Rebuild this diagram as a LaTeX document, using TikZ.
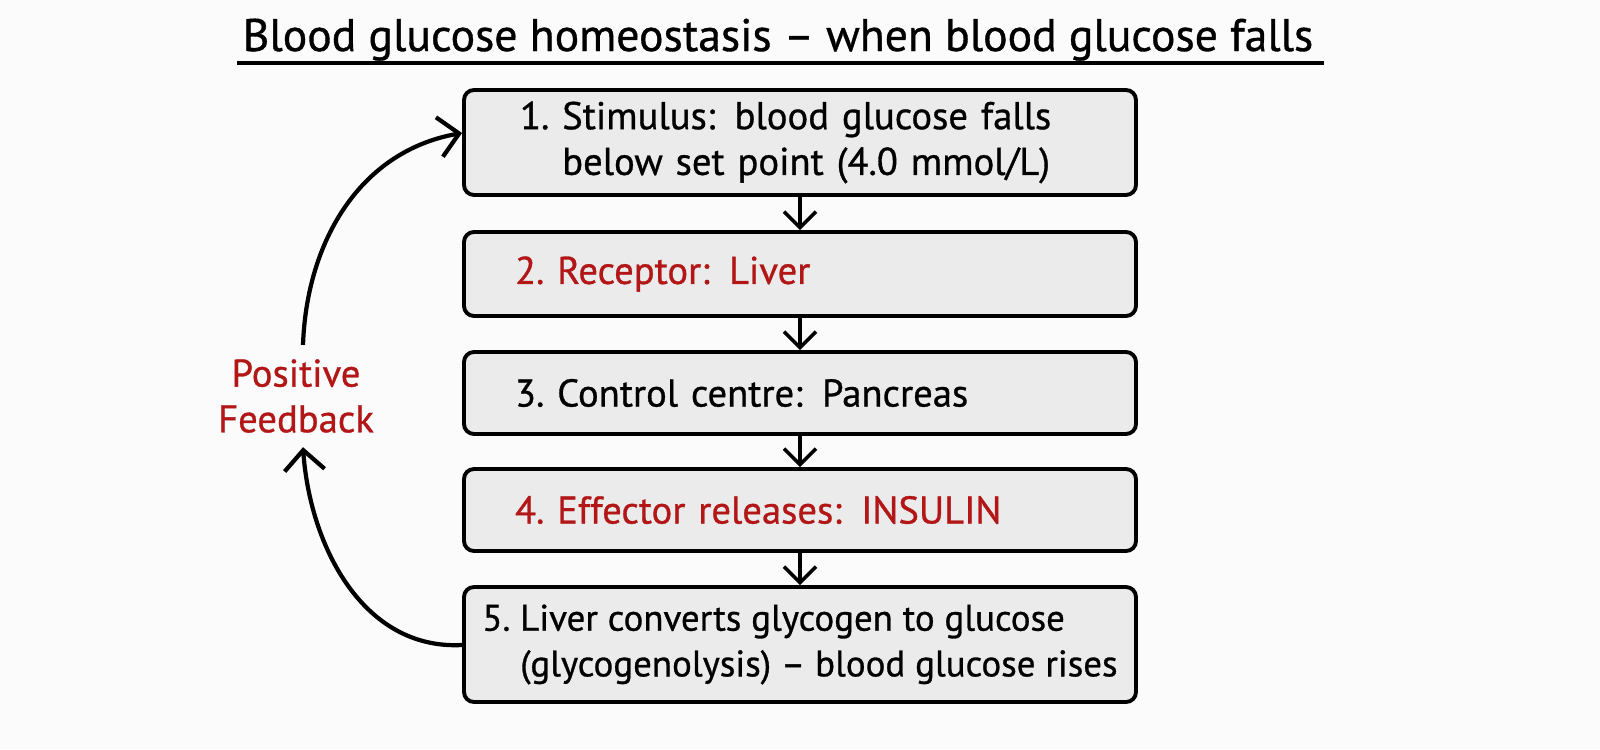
\documentclass[tikz,border=0pt]{standalone}
\usepackage{fontspec}
\setmainfont{PT Sans}[FakeBold=0.8]
\usetikzlibrary{arrows.meta}
\definecolor{boxgrey}{RGB}{235,235,235}
\definecolor{fbred}{RGB}{178,22,22}
\definecolor{paper}{RGB}{251,251,251}
\tikzset{
	stepbox/.style={draw, line width=1.1pt, rounded corners=0.1cm, fill=boxgrey, minimum width=6.72cm, inner ysep=0pt, align=left, font=\fontsize{11}{13}\selectfont},
	flow/.style={line width=1pt, -{Straight Barb[length=1.6mm, width=3.2mm, line width=1pt]}},
	loop/.style={line width=1.2pt, -{Straight Barb[length=2mm, width=4mm, line width=1.2pt]}}
}

\begin{document}
\begin{tikzpicture}
			%%%%% START %%%%%
			\fill[paper] (0, 0) rectangle (16, 7.49);
			\useasboundingbox (0, 0) rectangle (16, 7.49);
			
			\node[anchor=base, font=\fontsize{13}{15}\selectfont] (title) at (7.78, 6.98) {Blood glucose homeostasis – when blood glucose falls};
			\draw[line width=1.1pt] (2.37, 6.86) -- (13.24, 6.86);
			
			\node[stepbox, inner xsep=0.56cm, text width=5.6cm, minimum height=1.05cm] (s1) at (8.0, 6.065)
				{1.\ Stimulus: blood glucose falls\\\hphantom{1.\ }below set point (4.0 mmol/L)};
			\node[stepbox, inner xsep=0.51cm, text width=5.7cm, minimum height=0.84cm, text=fbred] (s2) at (8.0, 4.75)
				{2.\ Receptor: Liver};
			\node[stepbox, inner xsep=0.51cm, text width=5.7cm, minimum height=0.82cm] (s3) at (8.0, 3.56)
				{3.\ Control centre: Pancreas};
			\node[stepbox, inner xsep=0.51cm, text width=5.7cm, minimum height=0.82cm, text=fbred] (s4) at (8.0, 2.39)
				{4.\ Effector releases: INSULIN};
			\node[stepbox, inner xsep=0.1cm, minimum height=1.15cm, font=\fontsize{10.5}{13}\selectfont] (s5) at (8.0, 1.045)
				{5.\ Liver converts glycogen to glucose\\\hphantom{5.\ }(glycogenolysis) – blood glucose rises};
			
			\draw[flow] (s1) -- (s2);
			\draw[flow] (s2) -- (s3);
			\draw[flow] (s3) -- (s4);
			\draw[flow] (s4) -- (s5);
			
			\node[text=fbred, align=center, font=\fontsize{11}{13}\selectfont] (fb) at (2.96, 3.53) {Positive\\Feedback};
			\draw[loop] ([xshift=0.07cm, yshift=0.02cm]fb.north) to[out=88, in=190] ([yshift=0.095cm]s1.west);
			\draw[loop] ([yshift=-0.005cm]s5.west) to[out=183, in=-86] ([xshift=0.07cm, yshift=-0.02cm]fb.south);
			%%%%% END %%%%%
\end{tikzpicture}
\end{document}
